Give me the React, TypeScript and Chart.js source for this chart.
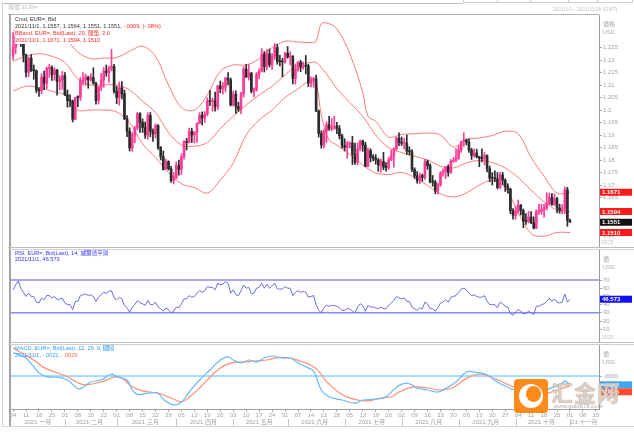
import React, { useEffect, useRef } from "react";
import { Chart, registerables } from "chart.js";
Chart.register(...registerables);

const FONT = "'Liberation Sans', Arial, 'Noto Sans CJK TC', sans-serif";
const X_MIN = -0.8;
const X_MAX = 226.2;

// Daily candles, Jan 4 (index 0) to Nov 1 (index 215): [open, high, low, close]
const candles: number[][] = [
  [1.2216,1.2310,1.2200,1.2250],[1.2250,1.2300,1.2226,1.2298],[1.2298,1.2349,1.2264,1.2326],[1.2326,1.2343,1.2253,1.2272],[1.2272,1.2280,1.2192,1.2220],
  [1.2220,1.2224,1.2131,1.2151],[1.2151,1.2212,1.2133,1.2207],[1.2207,1.2222,1.2154,1.2157],[1.2157,1.2180,1.2123,1.2157],[1.2157,1.2160,1.2069,1.2079],
  [1.2079,1.2089,1.2054,1.2077],[1.2077,1.2145,1.2065,1.2131],[1.2131,1.2156,1.2081,1.2107],[1.2107,1.2172,1.2086,1.2166],[1.2166,1.2183,1.2130,1.2170],
  [1.2170,1.2177,1.2118,1.2141],[1.2141,1.2169,1.2119,1.2160],[1.2160,1.2163,1.2059,1.2114],[1.2114,1.2137,1.2080,1.2121],[1.2121,1.2154,1.2083,1.2137],
  [1.2137,1.2150,1.2057,1.2061],[1.2061,1.2080,1.2011,1.2037],[1.2037,1.2061,1.2013,1.2036],[1.2036,1.2040,1.1952,1.1963],[1.1963,1.2051,1.1962,1.2050],
  [1.2050,1.2057,1.2013,1.2050],[1.2050,1.2130,1.2038,1.2117],[1.2117,1.2150,1.2099,1.2120],[1.2120,1.2144,1.2098,1.2132],[1.2132,1.2135,1.2087,1.2120],
  [1.2120,1.2145,1.2115,1.2130],[1.2130,1.2169,1.2103,1.2107],[1.2107,1.2112,1.2023,1.2038],[1.2038,1.2094,1.2024,1.2091],[1.2091,1.2146,1.2077,1.2120],
  [1.2120,1.2170,1.2091,1.2156],[1.2156,1.2180,1.2135,1.2150],[1.2150,1.2176,1.2110,1.2167],[1.2167,1.2243,1.2156,1.2174],[1.2174,1.2183,1.2067,1.2075],
  [1.2075,1.2095,1.2025,1.2050],[1.2050,1.2112,1.2019,1.2089],[1.2089,1.2114,1.2044,1.2065],[1.2065,1.2080,1.1961,1.1965],[1.1965,1.1978,1.1893,1.1915],
  [1.1915,1.1929,1.1836,1.1848],[1.1848,1.1910,1.1835,1.1900],[1.1900,1.1935,1.1869,1.1928],[1.1928,1.1990,1.1920,1.1985],[1.1985,1.1990,1.1910,1.1951],
  [1.1951,1.1964,1.1910,1.1930],[1.1930,1.1952,1.1886,1.1900],[1.1900,1.1989,1.1883,1.1978],[1.1978,1.1990,1.1893,1.1915],[1.1915,1.1925,1.1874,1.1904],
  [1.1904,1.1945,1.1888,1.1938],[1.1938,1.1942,1.1842,1.1850],[1.1850,1.1854,1.1800,1.1813],[1.1813,1.1836,1.1760,1.1763],[1.1763,1.1803,1.1762,1.1794],
  [1.1794,1.1797,1.1760,1.1765],[1.1765,1.1775,1.1710,1.1718],[1.1718,1.1750,1.1704,1.1730],[1.1730,1.1792,1.1724,1.1778],[1.1778,1.1800,1.1739,1.1763],
  [1.1763,1.1825,1.1742,1.1813],[1.1813,1.1878,1.1803,1.1873],[1.1873,1.1887,1.1840,1.1870],[1.1870,1.1928,1.1868,1.1915],[1.1915,1.1927,1.1870,1.1900],
  [1.1900,1.1914,1.1868,1.1911],[1.1911,1.1950,1.1871,1.1946],[1.1946,1.1989,1.1946,1.1979],[1.1979,1.1993,1.1940,1.1967],[1.1967,1.1994,1.1950,1.1983],
  [1.1983,1.2049,1.1977,1.2036],[1.2036,1.2079,1.2017,1.2034],[1.2034,1.2048,1.1995,1.2035],[1.2035,1.2072,1.1995,1.2013],[1.2013,1.2098,1.2001,1.2097],
  [1.2097,1.2116,1.2069,1.2085],[1.2085,1.2110,1.2063,1.2092],[1.2092,1.2132,1.2072,1.2127],[1.2127,1.2150,1.2100,1.2121],[1.2121,1.2128,1.2016,1.2020],
  [1.2020,1.2076,1.2017,1.2063],[1.2063,1.2077,1.1986,1.2014],[1.2014,1.2031,1.1994,1.2003],[1.2003,1.2071,1.1985,1.2065],[1.2065,1.2173,1.2052,1.2164],
  [1.2164,1.2182,1.2130,1.2132],[1.2132,1.2181,1.2120,1.2148],[1.2148,1.2150,1.2068,1.2075],[1.2075,1.2089,1.2052,1.2081],[1.2081,1.2150,1.2075,1.2143],
  [1.2143,1.2166,1.2125,1.2155],[1.2155,1.2245,1.2152,1.2224],[1.2224,1.2234,1.2152,1.2174],[1.2174,1.2242,1.2160,1.2225],[1.2225,1.2244,1.2172,1.2182],
  [1.2182,1.2226,1.2162,1.2215],[1.2215,1.2266,1.2201,1.2250],[1.2250,1.2262,1.2183,1.2193],[1.2193,1.2219,1.2176,1.2193],[1.2193,1.2207,1.2133,1.2192],
  [1.2192,1.2232,1.2187,1.2227],[1.2227,1.2254,1.2207,1.2212],[1.2212,1.2233,1.2180,1.2214],[1.2214,1.2218,1.2104,1.2126],[1.2126,1.2184,1.2104,1.2166],
  [1.2166,1.2195,1.2155,1.2191],[1.2191,1.2199,1.2153,1.2172],[1.2172,1.2192,1.2163,1.2178],[1.2178,1.2218,1.2144,1.2176],[1.2176,1.2183,1.2093,1.2107],
  [1.2107,1.2133,1.2092,1.2121],[1.2121,1.2131,1.2091,1.2124],[1.2124,1.2140,1.1993,1.1996],[1.1996,1.2000,1.1892,1.1906],[1.1906,1.1917,1.1847,1.1860],
  [1.1860,1.1922,1.1848,1.1915],[1.1915,1.1953,1.1870,1.1941],[1.1941,1.1975,1.1918,1.1926],[1.1926,1.1966,1.1917,1.1932],[1.1932,1.1975,1.1922,1.1936],
  [1.1936,1.1951,1.1905,1.1925],[1.1925,1.1938,1.1884,1.1897],[1.1897,1.1904,1.1847,1.1857],[1.1857,1.1885,1.1836,1.1850],[1.1850,1.1875,1.1807,1.1865],
  [1.1865,1.1873,1.1848,1.1867],[1.1867,1.1895,1.1782,1.1823],[1.1823,1.1868,1.1782,1.1791],[1.1791,1.1868,1.1781,1.1845],[1.1845,1.1880,1.1837,1.1876],
  [1.1876,1.1880,1.1835,1.1860],[1.1860,1.1871,1.1773,1.1775],[1.1775,1.1849,1.1772,1.1838],[1.1838,1.1845,1.1792,1.1810],[1.1810,1.1822,1.1796,1.1808],
  [1.1808,1.1821,1.1783,1.1800],[1.1800,1.1806,1.1755,1.1780],[1.1780,1.1804,1.1752,1.1794],[1.1794,1.1831,1.1761,1.1771],[1.1771,1.1790,1.1755,1.1770],
  [1.1770,1.1812,1.1762,1.1801],[1.1801,1.1840,1.1797,1.1818],[1.1818,1.1849,1.1771,1.1844],[1.1844,1.1892,1.1839,1.1888],[1.1888,1.1909,1.1857,1.1870],
  [1.1870,1.1892,1.1858,1.1867],[1.1867,1.1887,1.1844,1.1868],[1.1868,1.1900,1.1822,1.1835],[1.1835,1.1853,1.1820,1.1833],[1.1833,1.1842,1.1753,1.1762],
  [1.1762,1.1769,1.1726,1.1736],[1.1736,1.1754,1.1707,1.1718],[1.1718,1.1748,1.1705,1.1738],[1.1738,1.1744,1.1715,1.1730],[1.1730,1.1803,1.1722,1.1794],
  [1.1794,1.1800,1.1763,1.1777],[1.1777,1.1785,1.1708,1.1712],[1.1712,1.1738,1.1695,1.1712],[1.1712,1.1719,1.1665,1.1676],[1.1676,1.1708,1.1664,1.1700],
  [1.1700,1.1754,1.1695,1.1748],[1.1748,1.1765,1.1735,1.1754],[1.1754,1.1775,1.1726,1.1773],[1.1773,1.1781,1.1735,1.1751],[1.1751,1.1802,1.1745,1.1795],
  [1.1795,1.1810,1.1790,1.1799],[1.1799,1.1846,1.1792,1.1808],[1.1808,1.1858,1.1802,1.1840],[1.1840,1.1875,1.1831,1.1874],[1.1874,1.1909,1.1855,1.1880],
  [1.1880,1.1884,1.1860,1.1871],[1.1871,1.1885,1.1830,1.1840],[1.1840,1.1847,1.1802,1.1818],[1.1818,1.1845,1.1810,1.1828],[1.1828,1.1843,1.1808,1.1813],
  [1.1813,1.1815,1.1773,1.1806],[1.1806,1.1845,1.1792,1.1805],[1.1805,1.1830,1.1781,1.1818],[1.1818,1.1821,1.1752,1.1765],[1.1765,1.1776,1.1713,1.1727],
  [1.1727,1.1750,1.1700,1.1727],[1.1727,1.1757,1.1713,1.1725],[1.1725,1.1750,1.1684,1.1690],[1.1690,1.1750,1.1685,1.1740],[1.1740,1.1751,1.1701,1.1719],
  [1.1719,1.1725,1.1674,1.1694],[1.1694,1.1705,1.1667,1.1683],[1.1683,1.1687,1.1585,1.1597],[1.1597,1.1606,1.1563,1.1579],[1.1579,1.1614,1.1563,1.1595],
  [1.1595,1.1640,1.1586,1.1620],[1.1620,1.1622,1.1580,1.1597],[1.1597,1.1604,1.1529,1.1555],[1.1555,1.1586,1.1542,1.1554],[1.1554,1.1594,1.1549,1.1572],
  [1.1572,1.1594,1.1545,1.1550],[1.1550,1.1573,1.1524,1.1528],[1.1528,1.1601,1.1525,1.1593],[1.1593,1.1624,1.1582,1.1595],[1.1595,1.1624,1.1583,1.1602],
  [1.1602,1.1623,1.1571,1.1608],[1.1608,1.1669,1.1600,1.1627],[1.1627,1.1668,1.1621,1.1651],[1.1651,1.1666,1.1618,1.1623],[1.1623,1.1665,1.1618,1.1645],
  [1.1645,1.1651,1.1588,1.1608],[1.1608,1.1623,1.1587,1.1597],[1.1597,1.1622,1.1585,1.1604],[1.1604,1.1692,1.1585,1.1681],[1.1681,1.1691,1.1535,1.1558],
  [1.1557,1.1564,1.1551,1.1551],
];

// Bollinger bands (20, 2.0)
const bandIdx = [0,5,10,15,20,25,30,35,40,45,50,55,60,65,70,75,80,85,90,95,100,105,110,115,117,119,122,125,130,135,137,140,145,150,155,160,165,170,175,180,185,190,195,200,205,210,215];
const bbUpper = [1.2315,1.2345,1.2365,1.2345,1.2290,1.2232,1.2205,1.2208,1.2210,1.2235,1.2255,1.2215,1.2100,1.2010,1.2000,1.2060,1.2155,1.2180,1.2180,1.2205,1.2250,1.2275,1.2272,1.2270,1.2275,1.2345,1.2345,1.2325,1.2225,1.2070,1.1975,1.1955,1.1892,1.1902,1.1905,1.1908,1.1900,1.1852,1.1882,1.1888,1.1898,1.1915,1.1905,1.1810,1.1735,1.1668,1.1671];
const bbMiddle = [1.2195,1.2215,1.2225,1.2215,1.2190,1.2125,1.2100,1.2100,1.2100,1.2080,1.2035,1.1990,1.1910,1.1860,1.1855,1.1870,1.1925,1.1975,1.2020,1.2060,1.2095,1.2140,1.2180,1.2190,1.2190,1.2170,1.2130,1.2085,1.2030,1.1975,1.1945,1.1900,1.1850,1.1830,1.1815,1.1800,1.1775,1.1768,1.1788,1.1798,1.1790,1.1768,1.1730,1.1680,1.1632,1.1600,1.1594];
const bbLower = [1.2075,1.2095,1.2090,1.2075,1.2060,1.2000,1.2000,1.2000,1.1992,1.1950,1.1865,1.1810,1.1750,1.1705,1.1690,1.1668,1.1720,1.1788,1.1900,1.1960,1.2000,1.2050,1.2085,1.2120,1.2110,1.1980,1.1880,1.1860,1.1822,1.1780,1.1765,1.1748,1.1742,1.1750,1.1730,1.1698,1.1665,1.1652,1.1668,1.1700,1.1718,1.1690,1.1590,1.1505,1.1495,1.1510,1.1510];

// RSI 14, one value per trading day
const rsiValues = [
  58,64,69,60,55,50,54,50,50,43,42,48,46,51,51,48,50,46,47,48,
  42,40,40,34,44,44,51,52,53,51,52,50,44,49,52,55,54,56,57,48,
  46,49,47,39,36,31,37,40,45,42,41,39,45,40,40,43,37,35,32,36,
  34,30,32,37,36,41,47,47,51,49,50,54,57,55,57,62,61,61,58,66,
  64,65,68,66,54,58,52,51,57,64,60,61,53,54,60,61,66,60,65,60,
  63,66,59,59,59,62,60,60,51,55,57,55,56,55,49,50,51,40,33,30,
  36,39,38,39,39,38,36,33,33,35,35,32,30,37,41,39,32,39,37,37,
  36,35,37,35,35,39,42,45,50,48,47,48,44,44,37,35,33,36,35,43,
  41,35,35,32,36,42,43,46,43,49,50,51,55,59,60,58,54,51,52,50,
  49,49,51,44,40,40,40,36,43,41,38,37,29,27,31,34,32,29,29,32,
  30,28,38,38,40,41,44,48,44,47,43,42,43,53,43,46.573,
];
const rsiLevels = [70, 30];

// MACD (12, 26, 9)
const macdIdx = [0,3,5,8,10,13,17,21,25,27,30,34,38,40,44,46,48,52,56,58,62,65,68,72,76,80,83,85,88,91,94,97,100,104,107,110,113,116,119,122,127,132,135,140,144,148,152,156,160,164,167,171,175,178,183,187,191,194,198,201,205,209,212,213,215];
const macdValues = [0.0058,0.0052,0.0045,0.0023,0.0008,-0.0002,-0.0003,-0.0010,-0.0032,-0.0028,-0.0015,-0.0010,0.0005,-0.0002,-0.0010,-0.0035,-0.0046,-0.0043,-0.0043,-0.0058,-0.0072,-0.0065,-0.0040,-0.0010,0.0015,0.0040,0.0048,0.0040,0.0033,0.0040,0.0035,0.0045,0.0050,0.0045,0.0045,0.0033,0.0023,0.0012,-0.0035,-0.0052,-0.0060,-0.0068,-0.0060,-0.0058,-0.0052,-0.0028,-0.0018,-0.0030,-0.0035,-0.0040,-0.0031,-0.0015,0.0010,0.0010,0.0003,-0.0015,-0.0028,-0.0036,-0.0045,-0.0048,-0.0038,-0.0026,-0.0018,-0.0012,-0.0022];
const signalIdx = [0,4,8,12,17,21,25,28,34,39,42,46,50,56,61,65,68,72,76,80,84,88,93,98,102,107,111,115,118,121,127,133,137,142,146,149,154,160,165,170,175,180,184,189,194,199,203,207,211,215];
const signalValues = [0.0070,0.0055,0.0040,0.0021,0.0008,-0.0002,-0.0017,-0.0022,-0.0015,-0.0003,-0.0005,-0.0027,-0.0037,-0.0043,-0.0055,-0.0064,-0.0053,-0.0030,-0.0003,0.0020,0.0032,0.0035,0.0037,0.0040,0.0046,0.0045,0.0037,0.0027,0.0012,-0.0014,-0.0046,-0.0060,-0.0062,-0.0055,-0.0052,-0.0040,-0.0028,-0.0030,-0.0035,-0.0028,-0.0006,0.0005,-0.0002,-0.0015,-0.0030,-0.0041,-0.0046,-0.0042,-0.0033,-0.0025];

// Axis labels
const priceTicks = [1.15,1.155,1.16,1.165,1.17,1.175,1.18,1.185,1.19,1.195,1.2,1.205,1.21,1.215,1.22,1.225];
const rsiTicks = [10,20,30,40,50,60,70];
const macdTicks = [0];
const weekIdx = [0,5,10,15,20,25,30,35,40,45,50,55,60,65,70,75,80,85,90,95,100,105,110,115,120,125,130,135,140,145,150,155,160,165,170,175,180,185,190,195,200,205,210,215,220,225];
const weekLabels = ["04","11","18","25","01","08","15","22","01","08","15","22","29","05","12","19","26","03","10","17","24","31","07","14","21","28","05","12","19","26","02","09","16","23","30","06","13","20","27","04","11","18","25","01","08","15"];
const monthStarts = [20,40,63,85,106,128,150,172,194,215];
const monthCenters = [9.5,29.5,51,73.5,95,116.5,138.5,160.5,182.5,204,220.5];
const monthLabels = ["2021 一月","2021 二月","2021 三月","2021 四月","2021 五月","2021 六月","2021 七月","2021 八月","2021 九月","2021 十月","21 十一月"];

const priceBoxes = [
  { value: 1.1671, text: "1.1671", bg: "#ff1a1a" },
  { value: 1.1594, text: "1.1594", bg: "#ff1a1a" },
  { value: 1.1551, text: "1.1551", bg: "#111111" },
  { value: 1.1510, text: "1.1510", bg: "#ff1a1a" },
];
const rsiBoxes = [{ value: 46.573, text: "46.573", bg: "#1010ff" }];
const macdBoxes = [
  { value: -0.0022, text: "-.0022", bg: "#3fa8f5" },
  { value: -0.0025, text: "-.0025", bg: "#ff4b2b" },
];

const UP = "#ff3c96";
const DOWN = "#2b2b2b";

const valueBoxes = {
  id: "valueBoxes",
  afterDraw(chart: any, _args: any, opts: any) {
    const items = (opts && opts.items) || [];
    const ys = chart.scales.y;
    const ctx = chart.ctx;
    const left = chart.chartArea.right + 1;
    const w = chart.width - left - 2;
    const h = 7;
    const placed = items
      .map((it: any) => ({ ...it, cy: ys.getPixelForValue(it.value) }))
      .sort((a: any, b: any) => a.cy - b.cy);
    let lastBottom = -Infinity;
    ctx.save();
    ctx.font = `bold 6px ${FONT}`;
    ctx.textBaseline = "middle";
    ctx.textAlign = "left";
    for (const it of placed) {
      let top = it.cy - h / 2;
      if (top < lastBottom) top = lastBottom;
      lastBottom = top + h;
      ctx.fillStyle = it.bg;
      ctx.fillRect(left, top, w, h);
      ctx.fillStyle = "#ffffff";
      ctx.fillText(it.text, left + 2, top + h / 2 + 0.5);
    }
    ctx.restore();
  },
};

const monthSeparators = {
  id: "monthSeparators",
  afterDraw(chart: any) {
    const xs = chart.scales.x;
    const xm = chart.scales.xm;
    const ctx = chart.ctx;
    ctx.save();
    ctx.strokeStyle = "#c4c4c4";
    ctx.lineWidth = 1;
    ctx.beginPath();
    for (const m of monthStarts) {
      const px = Math.round(xs.getPixelForValue(m)) + 0.5;
      ctx.moveTo(px, xm.top + 1);
      ctx.lineTo(px, xm.bottom - 1);
    }
    ctx.stroke();
    ctx.restore();
  },
};

function rightY(min: number, max: number, ticks: number[], fmt: (v: number) => string) {
  return {
    type: "linear",
    position: "right",
    min,
    max,
    afterBuildTicks: (s: any) => {
      s.ticks = ticks.map((v) => ({ value: v }));
    },
    afterFit: (s: any) => {
      s.width = 35;
      s.paddingTop = 0;
      s.paddingBottom = 0;
    },
    grid: { drawOnChartArea: false, tickLength: 3, color: "#a8a8a8", lineWidth: 1 },
    border: { display: true, color: "#9a9a9a", width: 1 },
    ticks: {
      autoSkip: false,
      color: "#a3a3a3",
      padding: 1,
      font: { size: 6, family: FONT },
      callback: (v: any) => fmt(Number(v)),
    },
  };
}

function hiddenX() {
  return { type: "linear", min: X_MIN, max: X_MAX, display: false, offset: false, grid: { offset: false } };
}

function baseOptions(padding: any) {
  return {
    responsive: false,
    animation: false,
    devicePixelRatio: 1,
    events: [],
    layout: { padding },
    plugins: { legend: { display: false }, tooltip: { enabled: false } },
  };
}

function line(data: any[], color: string, width: number, tension = 0) {
  return {
    type: "line",
    data,
    borderColor: color,
    borderWidth: width,
    pointRadius: 0,
    tension,
    fill: false,
  };
}

function priceConfig(): any {
  const colors = candles.map((c) => (c[3] > c[0] ? UP : DOWN));
  const bodies = candles.map((c, i) => ({ x: i, y: [c[0], c[3]] }));
  const wicks = candles.map((c, i) => ({ x: i, y: [c[2], c[1]] }));
  const band = (vals: number[]) => vals.map((v, i) => ({ x: bandIdx[i], y: v }));
  return {
    type: "line",
    data: {
      datasets: [
        { type: "bar", data: bodies, backgroundColor: colors, barThickness: 2, grouped: false, minBarLength: 1, borderWidth: 0 },
        { type: "bar", data: wicks, backgroundColor: colors, barThickness: 1, grouped: false, minBarLength: 1, borderWidth: 0 },
        line(band(bbUpper), "rgba(255,100,100,0.85)", 1, 0.35),
        line(band(bbMiddle), "rgba(255,100,100,0.85)", 1, 0.35),
        line(band(bbLower), "rgba(255,100,100,0.85)", 1, 0.35),
      ],
    },
    options: {
      ...baseOptions({ left: 11, right: 0, top: 1, bottom: 1 }),
      plugins: { legend: { display: false }, tooltip: { enabled: false }, valueBoxes: { items: priceBoxes } },
      scales: {
        x: hiddenX(),
        y: { ...rightY(1.1456, 1.238, priceTicks, (v) => String(parseFloat(v.toFixed(3)))), beginAtZero: false },
      },
    },
    plugins: [valueBoxes],
  };
}

function rsiConfig(): any {
  const levelSets = rsiLevels.map((lv) =>
    line([{ x: X_MIN, y: lv }, { x: X_MAX, y: lv }], "#8a8af2", 1.5)
  );
  return {
    type: "line",
    data: {
      datasets: [
        line(rsiValues.map((v, i) => ({ x: i, y: v })), "#6b6be6", 1, 0),
        ...levelSets,
      ],
    },
    options: {
      ...baseOptions({ left: 11, right: 0, top: 0, bottom: 0 }),
      plugins: { legend: { display: false }, tooltip: { enabled: false }, valueBoxes: { items: rsiBoxes } },
      scales: {
        x: hiddenX(),
        y: rightY(-6.8, 107.8, rsiTicks, (v) => String(v)),
      },
    },
    plugins: [valueBoxes],
  };
}

function macdConfig(): any {
  return {
    type: "line",
    data: {
      datasets: [
        line(macdValues.map((v, i) => ({ x: macdIdx[i], y: v })), "#69b9fb", 1.2, 0.4),
        line(signalValues.map((v, i) => ({ x: signalIdx[i], y: v })), "#ff8f74", 1.2, 0.4),
        line([{ x: X_MIN, y: 0 }, { x: X_MAX, y: 0 }], "#86d0fb", 1.3),
      ],
    },
    options: {
      ...baseOptions({ left: 11, right: 0, top: 0, bottom: 7 }),
      plugins: { legend: { display: false }, tooltip: { enabled: false }, valueBoxes: { items: macdBoxes } },
      scales: {
        x: {
          type: "linear",
          position: "bottom",
          weight: 1,
          offset: false,
          min: X_MIN,
          max: X_MAX,
          afterBuildTicks: (s: any) => {
            s.ticks = weekIdx.map((v) => ({ value: v }));
          },
          afterFit: (s: any) => {
            s.height = 9;
            s.paddingLeft = 0;
            s.paddingRight = 0;
          },
          grid: { drawOnChartArea: false, tickLength: 3, color: "#b0b0b0" },
          border: { display: true, color: "#a0a0a0" },
          ticks: {
            autoSkip: false,
            maxRotation: 0,
            color: "#a3a3a3",
            padding: 0,
            font: { size: 6, family: FONT },
            callback: (_v: any, i: number) => weekLabels[i],
          },
        },
        xm: {
          type: "linear",
          position: "bottom",
          weight: 2,
          offset: false,
          min: X_MIN,
          max: X_MAX,
          afterBuildTicks: (s: any) => {
            s.ticks = monthCenters.map((v) => ({ value: v }));
          },
          afterFit: (s: any) => {
            s.height = 9;
            s.paddingLeft = 0;
            s.paddingRight = 0;
          },
          grid: { display: false, drawTicks: false },
          border: { display: false },
          ticks: {
            autoSkip: false,
            maxRotation: 0,
            color: "#a0a0a0",
            padding: 1,
            font: { size: 6, family: FONT },
            callback: (_v: any, i: number) => monthLabels[i],
          },
        },
        y: rightY(-0.00825, 0.008, macdTicks, () => ".0000"),
      },
    },
    plugins: [valueBoxes, monthSeparators],
  };
}

const abs = (s: React.CSSProperties): React.CSSProperties => ({ position: "absolute", ...s });
const hLine = (top: number, left: number, width: number, color: string, h = 1) => (
  <div style={abs({ top, left, width, height: h, background: color, zIndex: 3 })} />
);
const txt: React.CSSProperties = {
  position: "absolute",
  fontFamily: FONT,
  fontSize: 5.6,
  lineHeight: "7px",
  whiteSpace: "pre",
  zIndex: 4,
};
const legendBg: React.CSSProperties = { background: "#ffffff", paddingRight: 1 };

export default function App() {
  const priceRef = useRef<HTMLCanvasElement>(null);
  const rsiRef = useRef<HTMLCanvasElement>(null);
  const macdRef = useRef<HTMLCanvasElement>(null);

  useEffect(() => {
    const charts = [
      new Chart(priceRef.current as HTMLCanvasElement, priceConfig()),
      new Chart(rsiRef.current as HTMLCanvasElement, rsiConfig()),
      new Chart(macdRef.current as HTMLCanvasElement, macdConfig()),
    ];
    return () => charts.forEach((c) => c.destroy());
  }, []);

  return (
    <div style={abs({ left: 0, top: 0, width: 634, height: 434, background: "#ffffff", overflow: "hidden", fontFamily: FONT })}>
      {/* window chrome */}
      {hLine(3, 2, 461, "#bdbdbd")}
      <div style={abs({ left: 463, top: -1, width: 170, height: 4, border: "1px solid #cfcfcf", boxSizing: "border-box" })} />
      {[497, 530, 568, 597].map((x) => (
        <div key={x} style={abs({ left: x, top: 0, width: 1, height: 3, background: "#cfcfcf" })} />
      ))}
      <div style={abs({ left: 2, top: 3, width: 1, height: 424, background: "#d2d2d2" })} />
      {hLine(426, 2, 632, "#d6d6d6")}
      <div style={{ ...txt, left: 8, top: 4, color: "#bdbdbd", fontSize: 6 }}>報價 EUR=</div>
      <div style={{ ...txt, left: 553, top: 6, color: "#bdbdbd", fontSize: 5 }}>2021/1/1 - 2021/11/16 (GMT)</div>

      <canvas ref={priceRef} width={634} height={233} style={abs({ left: 0, top: 14, width: 634, height: 233 })} />
      <canvas ref={rsiRef} width={634} height={94} style={abs({ left: 0, top: 249, width: 634, height: 94 })} />
      <canvas ref={macdRef} width={634} height={90} style={abs({ left: 0, top: 344, width: 634, height: 90 })} />

      {/* frame and separators */}
      {hLine(14, 8, 591, "#b4b4b4")}
      <div style={abs({ left: 9, top: 14, width: 2, height: 412, background: "#a4a4a4", zIndex: 3 })} />
      {hLine(247, 8, 626, "#bcbcbc")}
      {hLine(249, 8, 626, "#d2d2d2")}
      {hLine(342, 8, 626, "#bcbcbc")}
      {hLine(344, 8, 626, "#cdcdcd")}

      {/* price legend */}
      <div style={{ ...txt, ...legendBg, left: 15, top: 16, color: "#333" }}>Cmd, EUR=, Bid</div>
      <div style={{ ...txt, ...legendBg, left: 15, top: 23, color: "#333" }}>
        2021/11/1, 1.1557, 1.1564, 1.1551, 1.1551, <span style={{ color: "#ff2a2a" }}>-.0009, (-.08%)</span>
      </div>
      <div style={{ ...txt, ...legendBg, left: 15, top: 30, color: "#ff2a2a" }}>BBand, EUR=, Bid(Last), 20, 簡單, 2.0</div>
      <div style={{ ...txt, ...legendBg, left: 15, top: 37, color: "#ff2a2a" }}>2021/11/1, 1.1671, 1.1594, 1.1510</div>

      {/* price axis header */}
      <div style={{ ...txt, left: 603, top: 21, color: "#a8a8a8", fontSize: 6 }}>價格</div>
      <div style={{ ...txt, left: 603, top: 29, color: "#a8a8a8", fontSize: 5.5 }}>USD</div>
      <div style={{ ...txt, left: 601, top: 239, color: "#c4c4c4", fontSize: 5 }}>10/25</div>

      {/* RSI legend */}
      <div style={{ ...txt, left: 15, top: 250, color: "#3535ff" }}>RSI, EUR=, Bid(Last), 14, 威爾德平滑</div>
      <div style={{ ...txt, left: 15, top: 256, color: "#3535ff" }}>2021/11/1, 46.573</div>
      <div style={{ ...txt, left: 603, top: 256, color: "#a8a8a8", fontSize: 6 }}>價</div>
      <div style={{ ...txt, left: 603, top: 264, color: "#a8a8a8", fontSize: 5.5 }}>USD</div>
      <div style={{ ...txt, left: 601, top: 334, color: "#c4c4c4", fontSize: 5 }}>10/25</div>

      {/* MACD legend */}
      <div style={{ ...txt, left: 15, top: 345, color: "#2f9ff7" }}>
        MACD, EUR=, Bid(Last), 12, 26, 9, <span style={{ background: "#5ab4f7", color: "#fff" }}>指數</span>
      </div>
      <div style={{ ...txt, left: 15, top: 352, color: "#2f9ff7" }}>
        2021/11/1, -.0022, <span style={{ color: "#ff6a4a" }}>-.0025</span>
      </div>
      <div style={{ ...txt, left: 603, top: 351, color: "#a8a8a8", fontSize: 6 }}>價</div>
      <div style={{ ...txt, left: 603, top: 359, color: "#a8a8a8", fontSize: 5.5 }}>USD</div>

      {/* watermark */}
      <div style={abs({ left: 514, top: 379, width: 34, height: 34, background: "#ff8a1c", borderRadius: 4, zIndex: 5 })}>
        <div style={abs({ left: 5, top: 5, width: 24, height: 24, borderRadius: "50%", background: "#ffffff" })} />
        <div style={abs({ left: 12, top: 7, width: 15, height: 16, borderRadius: "50%", background: "#ff8a1c" })} />
      </div>
      <div
        style={{
          position: "absolute",
          left: 551,
          top: 378,
          fontSize: 22,
          lineHeight: "26px",
          fontWeight: 700,
          letterSpacing: 1,
          color: "rgba(226,212,202,0.92)",
          textShadow: "0 0 1px #8d837c",
          fontFamily: "'Noto Sans CJK SC', sans-serif",
          zIndex: 5,
          whiteSpace: "pre",
        }}
      >
        汇金网
      </div>
      <div style={{ ...txt, left: 554, top: 403, color: "#a9a9a9", fontSize: 6, zIndex: 5 }}>www.gold678.com</div>
    </div>
  );
}
